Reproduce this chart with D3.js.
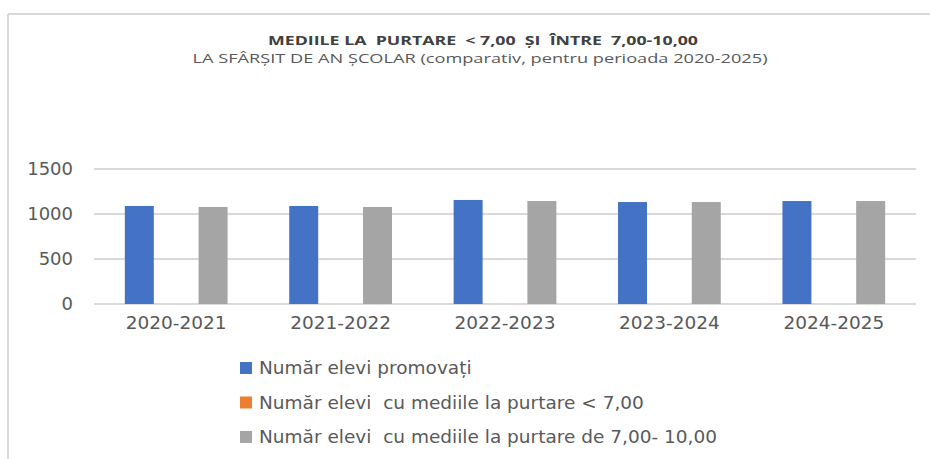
<!DOCTYPE html>
<html lang="ro">
<head>
	<meta charset="UTF-8">
	<title>Mediile la purtare</title>
	<script src="https://cdn.jsdelivr.net/npm/d3@7"></script>
	<style>
		body{
			margin: 0px;
			background: #fff;
		}
		svg{
			display: block;
		}
		text{
			font-family: "DejaVu Sans", sans-serif;
			fill: #595959;
			white-space: pre;
		}
	</style>
</head>
<body>
	<svg></svg>
	<script>
		// data
		var years = ["2020-2021", "2021-2022", "2022-2023", "2023-2024", "2024-2025"];
		var seriesNames = [
			"Număr elevi promovați",
			"Număr elevi  cu mediile la purtare < 7,00",
			"Număr elevi  cu mediile la purtare de 7,00- 10,00"
		];
		var promovati = [1089, 1089, 1156, 1133, 1144];
		var sub7 = [0, 0, 0, 0, 0];
		var intre7si10 = [1078, 1078, 1144, 1133, 1144];
		var yTicks = [0, 500, 1000, 1500];
		var colors = ["#4472C4", "#ED7D31", "#A5A5A5"];

		var w = 930,
			h = 459,
			svg = d3.select("svg").attr("width", w).attr("height", h);

		var allSeries = [promovati, sub7, intre7si10];
		var table = years.map(function(y, i) {
			return {year: y, values: allSeries.map(function(s, k) { return {k: k, v: s[i]}; })};
		});

		// frame (top and left edges only, as in the picture)
		svg.append("line").attr("x1", 8).attr("x2", w).attr("y1", 14).attr("y2", 14)
			.attr("stroke", "#d9d9d9").attr("stroke-width", 2);
		svg.append("line").attr("x1", 8).attr("x2", 8).attr("y1", 14).attr("y2", h)
			.attr("stroke", "#d9d9d9").attr("stroke-width", 2);

		// titles
		svg.append("text").attr("x", 483).attr("y", 45).attr("text-anchor", "middle")
			.attr("textLength", 430).attr("lengthAdjust", "spacingAndGlyphs")
			.style("font-family", "'Open Sans', sans-serif").style("font-weight", "bold")
			.style("font-size", "13px").style("fill", "#404040")
			.text("MEDIILE LA  PURTARE  < 7,00  ȘI  ÎNTRE  7,00-10,00");
		svg.append("text").attr("x", 480).attr("y", 63).attr("text-anchor", "middle")
			.attr("textLength", 575).attr("lengthAdjust", "spacingAndGlyphs")
			.style("font-family", "'Open Sans', sans-serif")
			.style("font-size", "13px").style("fill", "#595959")
			.text("LA SFÂRȘIT DE AN ȘCOLAR (comparativ, pentru perioada 2020-2025)");

		var x = d3.scaleBand().domain(years).range([94, 916])
			.paddingInner(0.375).paddingOuter(0.1875);
		var xs = d3.scaleBand().domain([0, 1, 2]).range([0, x.bandwidth()])
			.paddingInner(0.214).paddingOuter(0);
		var y = d3.scaleLinear().domain([0, 1500]).range([304, 169]);

		// gridlines
		svg.append("g").selectAll("line").data(yTicks).enter().append("line")
			.attr("x1", 94).attr("x2", 916)
			.attr("y1", function(d) { return y(d); }).attr("y2", function(d) { return y(d); })
			.attr("stroke", "#d9d9d9").attr("stroke-width", 2);

		// y axis labels
		var yAxis = svg.append("g").attr("transform", "translate(82,0)")
			.call(d3.axisLeft(y).tickValues(yTicks).tickFormat(d3.format("d")).tickSize(0).tickPadding(9));
		yAxis.select(".domain").remove();
		yAxis.selectAll("text").style("font-size", "18px").style("fill", "#595959")
			.style("font-family", "'DejaVu Sans', sans-serif");

		// bars
		var groups = svg.append("g").selectAll("g").data(table).enter().append("g")
			.attr("transform", function(d) { return "translate(" + x(d.year) + ",0)"; });
		groups.selectAll("rect").data(function(d) { return d.values; }).enter().append("rect")
			.attr("x", function(d) { return xs(d.k); })
			.attr("width", xs.bandwidth())
			.attr("y", function(d) { return y(d.v); })
			.attr("height", function(d) { return y(0) - y(d.v); })
			.attr("fill", function(d) { return colors[d.k]; });

		// x axis labels
		var xAxis = svg.append("g").attr("transform", "translate(0,304)")
			.call(d3.axisBottom(x).tickSize(0).tickPadding(12));
		xAxis.select(".domain").remove();
		xAxis.selectAll("text").style("font-size", "18.5px").style("fill", "#595959")
			.style("font-family", "'DejaVu Sans', sans-serif");

		// legend
		var legend = svg.append("g").selectAll("g").data(seriesNames).enter().append("g")
			.attr("transform", function(d, i) { return "translate(240," + (368 + i * 34.5) + ")"; });
		legend.append("rect").attr("x", 0).attr("y", -6).attr("width", 12).attr("height", 12)
			.attr("fill", function(d, i) { return colors[i]; });
		legend.append("text").attr("x", 19).attr("dy", "0.35em")
			.style("font-size", "18.5px").text(function(d) { return d; });
	</script>
</body>
</html>
